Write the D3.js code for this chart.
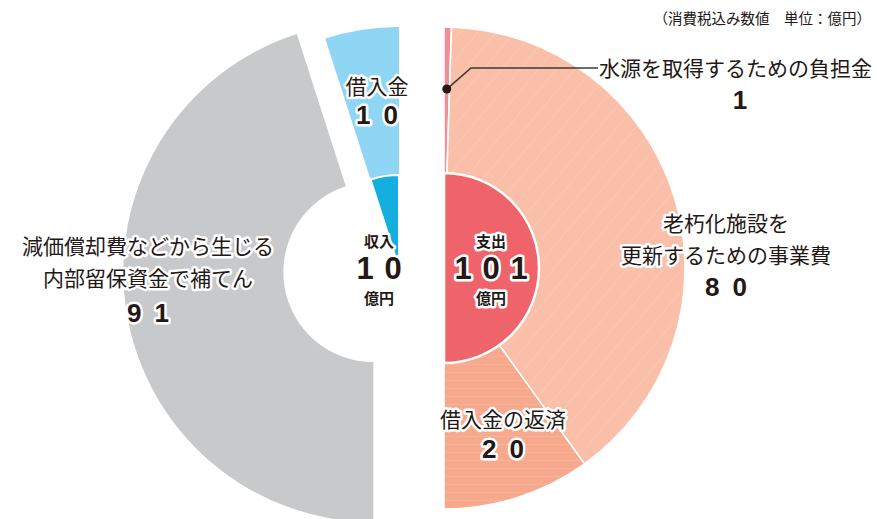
<!DOCTYPE html>
<html>
<head>
<meta charset="utf-8">
<script src="https://cdn.jsdelivr.net/npm/d3@7"></script>
<style>
  body { margin: 0; background: #fff; }
  svg text { font-family: "Noto Sans CJK JP", sans-serif; fill: #231815; }
  .halo { paint-order: stroke; stroke: #fff; stroke-width: 5px; stroke-linejoin: round; }
  .num { font-family: "Liberation Sans", Arial, sans-serif; font-weight: 700; }
</style>
</head>
<body>
<div id="chart"></div>
<script>
// data
const incomeLabels = ["借入金", "減価償却費などから生じる内部留保資金で補てん"];
const incomeValues = [10, 91];
const incomeTotal = 10;      // 収入
const expenseLabels = ["水源を取得するための負担金", "老朽化施設を更新するための事業費", "借入金の返済"];
const expenseValues = [1, 80, 20];
const expenseTotal = 101;    // 支出
const unitNote = "（消費税込み数値　単位：億円）";

const width = 877;
const height = 519;

const leftCx = 399, rightCx = 444, cy = 268;
const outerR = 241, innerR = 93;

const incomeColors = ["#8fd5f4", "#c8c9ca"];
const expenseColors = ["#f28c95", "url(#hatchA)", "url(#hatchB)"];

const svg = d3.select("#chart").append("svg")
    .attr("width", width)
    .attr("height", height)
    .attr("viewBox", [0, 0, width, height]);

// faint print textures
const defs = svg.append("defs");
const pa = defs.append("pattern").attr("id", "hatchA")
    .attr("patternUnits", "userSpaceOnUse").attr("width", 14).attr("height", 14)
    .attr("patternTransform", "rotate(-50)");
pa.append("rect").attr("width", 14).attr("height", 14).attr("fill", "#f9bfa8");
pa.append("line").attr("x1", 0).attr("x2", 14).attr("y1", 0.5).attr("y2", 0.5)
    .attr("stroke", "#fff").attr("stroke-opacity", 0.12).attr("stroke-width", 1);
const pb = defs.append("pattern").attr("id", "hatchB")
    .attr("patternUnits", "userSpaceOnUse").attr("width", 10).attr("height", 8);
pb.append("rect").attr("width", 10).attr("height", 8).attr("fill", "#f6a98c");
pb.append("line").attr("x1", 0).attr("x2", 10).attr("y1", 0.5).attr("y2", 0.5)
    .attr("stroke", "#fff").attr("stroke-opacity", 0.1).attr("stroke-width", 1);

// value -> angle scales (each half circle is 180 degrees)
const rightAngle = d3.scaleLinear().domain([0, d3.sum(expenseValues)]).range([0, Math.PI]);
const leftAngle = d3.scaleLinear().domain([0, d3.sum(incomeValues)]).range([0, -Math.PI]);

const arc = d3.arc();

// ---- left half: income ----
const left = svg.append("g").attr("transform", `translate(${leftCx},${cy})`);
const incomePie = d3.pie().sort(null).startAngle(0).endAngle(-Math.PI)(incomeValues);

left.selectAll("path.outer")
    .data(incomePie)
    .join("path")
    .attr("class", "outer")
    .attr("fill", (d, i) => incomeColors[i])
    .attr("d", (d, i) => i === 1
        ? arc({innerRadius: 90, outerRadius: 250, startAngle: d.startAngle, endAngle: d.endAngle})
        : arc({innerRadius: 0, outerRadius: outerR, startAngle: d.startAngle, endAngle: d.endAngle}))
    .attr("transform", (d, i) => {
        if (i !== 1) return null;
        // exploded slice
        const mid = (d.startAngle + d.endAngle) / 2;
        return `translate(${26 * Math.sin(mid)},${-26 * Math.cos(mid)})`;
    });

// inner: 収入 10
left.append("path")
    .attr("fill", "#14afdf")
    .attr("stroke", "#fff")
    .attr("stroke-width", 2)
    .attr("d", arc({innerRadius: 0, outerRadius: innerR, startAngle: 0, endAngle: leftAngle(incomeTotal)}));

// ---- right half: expenses ----
const right = svg.append("g").attr("transform", `translate(${rightCx},${cy})`);
const expensePie = d3.pie().sort(null).startAngle(0).endAngle(Math.PI)(expenseValues);

right.selectAll("path.outer")
    .data(expensePie)
    .join("path")
    .attr("class", "outer")
    .attr("fill", (d, i) => expenseColors[i])
    .attr("stroke", "#fff")
    .attr("stroke-width", 1.6)
    .attr("d", d => arc({innerRadius: 0, outerRadius: outerR, startAngle: d.startAngle, endAngle: d.endAngle}));

right.append("path")
    .attr("fill", "#ef646b")
    .attr("stroke", "#fff")
    .attr("stroke-width", 2.5)
    .attr("d", arc({innerRadius: 0, outerRadius: 95, startAngle: 0, endAngle: rightAngle(expenseTotal)}));

// leader line for the 1 slice
const p0 = expensePie[0];
const midA = (p0.startAngle + p0.endAngle) / 2;
const dot = [179 * Math.sin(midA), -179 * Math.cos(midA)];
right.append("polyline")
    .attr("points", [dot, [27, -200], [154, -200]].map(p => p.join(",")).join(" "))
    .attr("fill", "none")
    .attr("stroke", "#3e3a39")
    .attr("stroke-width", 1.6);
right.append("circle")
    .attr("cx", dot[0]).attr("cy", dot[1]).attr("r", 4.5)
    .attr("fill", "#231815");

// ---- labels ----
function label(x, y, lines, num, numY, size) {
    const g = svg.append("g");
    lines.forEach((t, i) => {
        g.append("text")
            .attr("class", "halo")
            .attr("x", x).attr("y", y + i * 32)
            .attr("text-anchor", "middle")
            .attr("dominant-baseline", "central")
            .attr("font-size", size || 21)
            .text(t);
    });
    g.append("text")
        .attr("class", "halo num")
        .attr("x", x).attr("y", numY)
        .attr("text-anchor", "middle")
        .attr("dominant-baseline", "central")
        .attr("font-size", 26)
        .attr("letter-spacing", "0.5em")
        .attr("dx", "0.25em")
        .text(num);
}

label(377, 85, [incomeLabels[0]], String(incomeValues[0]), 115);
label(148, 245, ["減価償却費などから生じる", "内部留保資金で補てん"], String(incomeValues[1]), 313);
label(726, 222, ["老朽化施設を", "更新するための事業費"], String(expenseValues[1]), 287);
label(503, 418, [expenseLabels[2]], String(expenseValues[2]), 449);

// 水源 label
svg.append("text")
    .attr("x", 599).attr("y", 67)
    .attr("dominant-baseline", "central")
    .attr("font-size", 21)
    .text(expenseLabels[0]);
svg.append("text")
    .attr("class", "num")
    .attr("x", 740).attr("y", 100)
    .attr("text-anchor", "middle")
    .attr("dominant-baseline", "central")
    .attr("font-size", 26)
    .text(String(expenseValues[0]));

// centre labels
function centre(x, title, value) {
    svg.append("text").attr("class", "halo")
        .attr("x", x).attr("y", 240).attr("text-anchor", "middle").attr("dominant-baseline", "central")
        .attr("font-size", 15).attr("font-weight", 700).text(title);
    svg.append("text").attr("class", "halo num")
        .attr("x", x).attr("y", 268).attr("text-anchor", "middle").attr("dominant-baseline", "central")
        .attr("font-size", 31).attr("letter-spacing", "0.35em").attr("dx", "0.18em").text(String(value));
    svg.append("text").attr("class", "halo")
        .attr("x", x).attr("y", 297).attr("text-anchor", "middle").attr("dominant-baseline", "central")
        .attr("font-size", 15).attr("font-weight", 700).text("億円");
}
centre(379, "収入", incomeTotal);
centre(491, "支出", expenseTotal);

// unit note
svg.append("text")
    .attr("x", 871).attr("y", 17)
    .attr("text-anchor", "end")
    .attr("dominant-baseline", "central")
    .attr("font-size", 14.5)
    .text(unitNote);
</script>
</body>
</html>
